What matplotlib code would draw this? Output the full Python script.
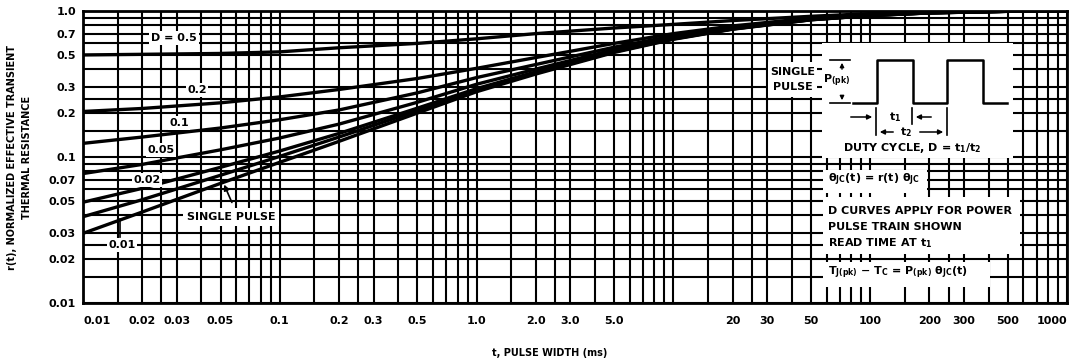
import numpy as np
import matplotlib
matplotlib.use("Agg")
import matplotlib.pyplot as plt
from matplotlib.ticker import LogLocator, NullFormatter
from matplotlib.patches import Rectangle
from matplotlib.lines import Line2D

# ---------------- data ----------------
pulse_width_ms = [0.01, 0.02, 0.05, 0.1, 0.2, 0.5, 1, 2, 5, 10, 20, 50, 100, 200, 500, 1000]
r_d050 = [0.500, 0.505, 0.512, 0.525, 0.560, 0.600, 0.645, 0.700, 0.765, 0.810, 0.860, 0.920, 0.960, 0.985, 0.998, 1.0]
r_d020 = [0.205, 0.215, 0.235, 0.258, 0.290, 0.345, 0.405, 0.480, 0.600, 0.700, 0.790, 0.895, 0.945, 0.975, 0.996, 1.0]
r_d010 = [0.124, 0.137, 0.158, 0.180, 0.210, 0.275, 0.350, 0.430, 0.565, 0.675, 0.775, 0.883, 0.937, 0.973, 0.996, 1.0]
r_d005 = [0.077, 0.089, 0.112, 0.135, 0.168, 0.237, 0.315, 0.400, 0.544, 0.658, 0.763, 0.877, 0.934, 0.972, 0.995, 1.0]
r_d002 = [0.049, 0.061, 0.085, 0.110, 0.145, 0.216, 0.294, 0.383, 0.530, 0.647, 0.755, 0.873, 0.931, 0.971, 0.995, 1.0]
r_d001 = [0.039, 0.051, 0.075, 0.101, 0.137, 0.208, 0.287, 0.376, 0.525, 0.644, 0.753, 0.871, 0.931, 0.970, 0.995, 1.0]
r_single = [0.030, 0.042, 0.066, 0.092, 0.128, 0.200, 0.280, 0.370, 0.520, 0.640, 0.750, 0.870, 0.930, 0.970, 0.995, 1.0]

curve_series = [r_d050, r_d020, r_d010, r_d005, r_d002, r_d001, r_single]

x_tick_values = [0.01, 0.02, 0.03, 0.05, 0.1, 0.2, 0.3, 0.5, 1, 2, 3, 5, 20, 30, 50, 100, 200, 300, 500, 1000]
x_tick_labels = ["0.01", "0.02", "0.03", "0.05", "0.1", "0.2", "0.3", "0.5", "1.0", "2.0", "3.0", "5.0",
                 "20", "30", "50", "100", "200", "300", "500", "1000"]
y_tick_values = [0.01, 0.02, 0.03, 0.05, 0.07, 0.1, 0.2, 0.3, 0.5, 0.7, 1.0]
y_tick_labels = ["0.01", "0.02", "0.03", "0.05", "0.07", "0.1", "0.2", "0.3", "0.5", "0.7", "1.0"]
grid_subs = (1.0, 1.5, 2.0, 2.5, 3.0, 4.0, 5.0, 6.0, 7.0, 8.0, 9.0)

# ---------------- figure ----------------
plt.rcParams['font.family'] = ['DejaVu Sans']
plt.rcParams['font.weight'] = 'bold'
plt.rcParams['mathtext.fontset'] = 'dejavusans'

W, H = 1069, 362
fig = plt.figure(figsize=(W / 100, H / 100), dpi=100)
L, R, T, B = 83, 1067, 11, 303
ax = fig.add_axes([L / W, 1 - B / H, (R - L) / W, (B - T) / H])
ax.set_xscale('log')
ax.set_yscale('log')
ax.set_xlim(0.01, 1000)
ax.set_ylim(0.01, 1.0)

ax.xaxis.set_minor_locator(LogLocator(base=10, subs=grid_subs, numticks=50))
ax.yaxis.set_minor_locator(LogLocator(base=10, subs=grid_subs, numticks=50))
ax.xaxis.set_minor_formatter(NullFormatter())
ax.yaxis.set_minor_formatter(NullFormatter())
ax.set_xticks(x_tick_values)
ax.set_xticklabels(x_tick_labels)
ax.set_yticks(y_tick_values)
ax.set_yticklabels(y_tick_labels)
ax.tick_params(which='both', length=0)
ax.tick_params(axis='x', pad=9, labelsize=8)
ax.tick_params(axis='y', pad=5, labelsize=8)
for lab in ax.get_xticklabels() + ax.get_yticklabels():
    lab.set_fontweight('bold')
xl = ax.get_xticklabels()
xl[0].set_horizontalalignment('left')
xl[-1].set_horizontalalignment('right')

ax.grid(which='both', color='black', linewidth=1.5)
ax.set_axisbelow(True)
for s in ax.spines.values():
    s.set_linewidth(2)
    s.set_color('black')

for ys in curve_series:
    ax.plot(pulse_width_ms, ys, color='black', linewidth=2.4, zorder=3, solid_capstyle='butt')


def F(px, py):
    return (px / W, 1 - py / H)


tf = fig.transFigure
txt_kw = dict(fontsize=8, fontweight='bold', color='black', zorder=6)
box_kw = dict(boxstyle='square,pad=0.15', facecolor='white', edgecolor='none')

# curve labels (left)
ax.text(*F(174, 38), "D = 0.5", transform=tf, ha='center', va='center', bbox=box_kw, **txt_kw)
ax.text(*F(197, 90), "0.2", transform=tf, ha='center', va='center', bbox=box_kw, **txt_kw)
ax.text(*F(179, 123), "0.1", transform=tf, ha='center', va='center', bbox=box_kw, **txt_kw)
ax.text(*F(161, 150), "0.05", transform=tf, ha='center', va='center', bbox=box_kw, **txt_kw)
ax.text(*F(147, 180), "0.02", transform=tf, ha='center', va='center', bbox=box_kw, **txt_kw)
ax.text(*F(122, 245), "0.01", transform=tf, ha='center', va='center', bbox=box_kw, **txt_kw)
ax.add_line(Line2D([F(120, 219)[0], F(120, 237)[0]], [F(120, 219)[1], F(120, 237)[1]],
                   transform=tf, color='black', lw=1.2, zorder=5))
ax.text(*F(231, 217), "SINGLE PULSE", transform=tf, ha='center', va='center',
        bbox=dict(boxstyle='square,pad=0.35', facecolor='white', edgecolor='none'), **txt_kw)
ax.annotate("", xy=F(223, 182), xycoords=tf, xytext=F(233, 205), textcoords=tf,
            arrowprops=dict(arrowstyle='-|>', color='black', lw=1.2, mutation_scale=8), zorder=6)

# white panels on the right
for (x0, y0, x1, y1) in [(768, 62, 817, 97), (822, 43, 1013, 158), (823, 170, 927, 193),
                         (823, 197, 1020, 254), (823, 262, 990, 287)]:
    ax.add_patch(Rectangle(F(x0, y1), (x1 - x0) / W, (y1 - y0) / H, transform=tf,
                           facecolor='white', edgecolor='none', zorder=4))

ax.text(*F(793, 72), "SINGLE", transform=tf, ha='center', va='center', **txt_kw)
ax.text(*F(793, 87), "PULSE", transform=tf, ha='center', va='center', **txt_kw)
ax.text(*F(837, 81), r"P$_\mathbf{(pk)}$", transform=tf, ha='center', va='center', **txt_kw)

# pulse train
px_wave = [853, 877, 877, 913, 913, 947, 947, 983, 983, 1007]
py_wave = [103, 103, 60, 60, 103, 103, 60, 60, 103, 103]
ax.add_line(Line2D([p / W for p in px_wave], [1 - p / H for p in py_wave], transform=tf,
                   color='black', lw=1.8, zorder=6))
# P(pk) marks
for yy in (60, 103):
    ax.add_line(Line2D([830 / W, 850 / W], [1 - yy / H, 1 - yy / H], transform=tf, color='black', lw=1.2, zorder=6))
ax.annotate("", xy=F(842, 60), xycoords=tf, xytext=F(842, 72), textcoords=tf,
            arrowprops=dict(arrowstyle='-|>', color='black', lw=1, mutation_scale=6), zorder=6)
ax.annotate("", xy=F(842, 103), xycoords=tf, xytext=F(842, 93), textcoords=tf,
            arrowprops=dict(arrowstyle='-|>', color='black', lw=1, mutation_scale=6), zorder=6)
# t1 / t2 marks
for (xx, ya, yb) in [(876, 108, 135), (912, 108, 124), (947, 108, 135)]:
    ax.add_line(Line2D([xx / W, xx / W], [1 - ya / H, 1 - yb / H], transform=tf, color='black', lw=1.2, zorder=6))
arrow_kw = dict(arrowstyle='-|>', color='black', lw=1.1, mutation_scale=7)
ax.annotate("", xy=F(875, 117), xycoords=tf, xytext=F(848, 117), textcoords=tf, arrowprops=arrow_kw, zorder=6)
ax.annotate("", xy=F(913, 117), xycoords=tf, xytext=F(934, 117), textcoords=tf, arrowprops=arrow_kw, zorder=6)
ax.annotate("", xy=F(877, 132), xycoords=tf, xytext=F(896, 132), textcoords=tf, arrowprops=arrow_kw, zorder=6)
ax.annotate("", xy=F(946, 132), xycoords=tf, xytext=F(917, 132), textcoords=tf, arrowprops=arrow_kw, zorder=6)
ax.text(*F(895, 117), r"t$_\mathbf{1}$", transform=tf, ha='center', va='center', **txt_kw)
ax.text(*F(906, 132), r"t$_\mathbf{2}$", transform=tf, ha='center', va='center', **txt_kw)
ax.text(*F(843, 148), r"DUTY CYCLE, D = t$_\mathbf{1}$/t$_\mathbf{2}$", transform=tf, ha='left', va='center', **txt_kw)

ax.text(*F(828, 180), r"θ$_\mathbf{JC}$(t) = r(t) θ$_\mathbf{JC}$", transform=tf, ha='left', va='center', **txt_kw)
ax.text(*F(828, 211), "D CURVES APPLY FOR POWER", transform=tf, ha='left', va='center', **txt_kw)
ax.text(*F(828, 227), "PULSE TRAIN SHOWN", transform=tf, ha='left', va='center', **txt_kw)
ax.text(*F(828, 243), r"READ TIME AT t$_\mathbf{1}$", transform=tf, ha='left', va='center', **txt_kw)
ax.text(*F(828, 273), r"T$_\mathbf{J(pk)}$ − T$_\mathbf{C}$ = P$_\mathbf{(pk)}$ θ$_\mathbf{JC}$(t)",
        transform=tf, ha='left', va='center', **txt_kw)

# axis titles
fig.text(12 / W, 1 - 157 / H, "r(t), NORMALIZED EFFECTIVE TRANSIENT", rotation=90,
         ha='center', va='center', fontsize=7, fontweight='bold')
fig.text(27 / W, 1 - 157 / H, "THERMAL RESISTANCE", rotation=90,
         ha='center', va='center', fontsize=7, fontweight='bold')
fig.text(550 / W, 1 - 353 / H, "t, PULSE WIDTH (ms)", ha='center', va='center',
         fontsize=7, fontweight='bold')

fig.savefig("out.png", dpi=100, facecolor='white')
